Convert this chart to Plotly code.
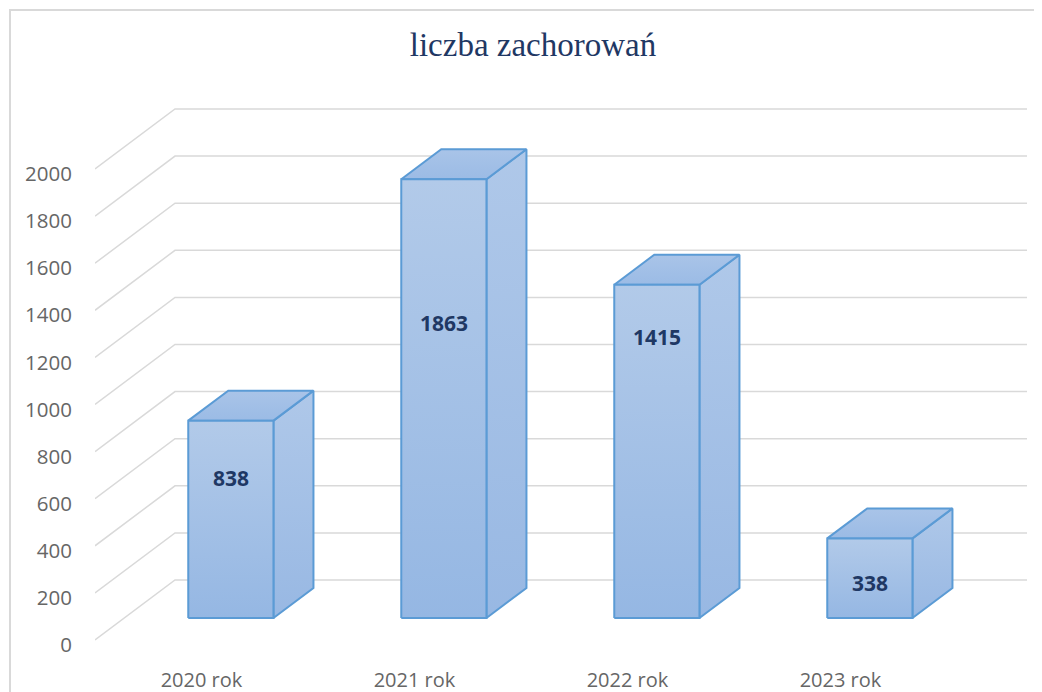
import plotly.graph_objects as go

# ---- data ----
categories = ["2020 rok", "2021 rok", "2022 rok", "2023 rok"]
values = [838, 1863, 1415, 338]
y_ticks = [0, 200, 400, 600, 800, 1000, 1200, 1400, 1600, 1800, 2000]
title_text = "liczba zachorowań"

# ---- layout / style settings ----
OFF = 8                        # the page body adds an 8px margin
W, H = 1042 - OFF, 692 - OFF   # figure size
ML, MR, MT, MB = 95 - OFF, 15, 100 - OFF, 32
PX_PER_CAT = 213.0            # horizontal pixels per category
PX_PER_UNIT = 0.2355          # vertical pixels per value unit
ZERO_PX = 640 - OFF           # pixel row of value 0 at the front edge
DEPTH_PX_X, DEPTH_PX_Y = 80.0, 60.0
DX = DEPTH_PX_X / PX_PER_CAT  # depth offset in category units
DY = DEPTH_PX_Y / PX_PER_UNIT # depth offset in value units
D_FRONT, D_BACK = 0.367, 0.867
HALF_W = 0.2
label_frac = [0.71, 0.672, 0.843, 0.44]  # where the value label sits on each bar

GRID = "#d9d9d9"
EDGE = "#5b9bd5"
front_scale = [[0, "#95b7e3"], [1, "#b2cae9"]]
side_scale = [[0, "#98b8e3"], [1, "#afc8e9"]]
top_scale = [[0, "#9bbbe5"], [1, "#a9c4e8"]]
TEXT_GRAY = "#666666"

x_lo = -0.5
x_hi = len(categories) - 0.5 + DX
plot_h = H - MT - MB
y_hi = (ZERO_PX - MT) / PX_PER_UNIT
y_lo = (ZERO_PX - (H - MB)) / PX_PER_UNIT

fig = go.Figure()

# gridlines: diagonal on the side wall + horizontal on the back wall
gx, gy = [], []
for v in y_ticks:
    gx += [x_lo, x_lo + DX, len(categories) - 0.5 + DX, None]
    gy += [v, v + DY, v + DY, None]
fig.add_trace(go.Scatter(x=gx, y=gy, mode="lines",
                         line=dict(color=GRID, width=1.5),
                         hoverinfo="skip", showlegend=False))

# 3D bars
ox = (D_BACK - D_FRONT) * DX
oy = (D_BACK - D_FRONT) * DY
for i, v in enumerate(values):
    x0 = i - HALF_W + D_FRONT * DX
    x1 = i + HALF_W + D_FRONT * DX
    y0 = D_FRONT * DY
    y1 = v + D_FRONT * DY
    faces = [
        ([x1, x1, x1 + ox, x1 + ox, x1], [y0, y1, y1 + oy, y0 + oy, y0], side_scale),
        ([x0, x0 + ox, x1 + ox, x1, x0], [y1, y1 + oy, y1 + oy, y1, y1], top_scale),
        ([x0, x0, x1, x1, x0], [y0, y1, y1, y0, y0], front_scale),
    ]
    for fx, fy, cs in faces:
        fig.add_trace(go.Scatter(
            x=fx, y=fy, mode="lines", fill="toself",
            fillgradient=dict(type="vertical", colorscale=cs),
            line=dict(color=EDGE, width=2),
            hoverinfo="skip", showlegend=False))
    fig.add_annotation(x=(x0 + x1) / 2, y=y0 + v * label_frac[i],
                       text=f"<b>{v}</b>", showarrow=False,
                       font=dict(family="Open Sans", size=21, color="#1f3864"),
                       xanchor="center", yanchor="middle")

# chart border
pw = W - ML - MR
fig.add_shape(type="rect", xref="paper", yref="paper",
              x0=(10 - OFF - ML) / pw, x1=(W + 5 - ML) / pw,
              y0=((H - MB) - (H + 5)) / plot_h, y1=((H - MB) - (10 - OFF)) / plot_h,
              line=dict(color="#d9d9d9", width=2), fillcolor="rgba(0,0,0,0)",
              layer="below")

fig.update_layout(
    width=W, height=H,
    margin=dict(l=ML, r=MR, t=MT, b=MB, autoexpand=False),
    paper_bgcolor="white", plot_bgcolor="white",
    showlegend=False,
    title=dict(text=title_text, x=(533 - OFF) / W, xanchor="center",
               y=1 - (44 - OFF) / H, yanchor="middle",
               xref="container", yref="container",
               font=dict(family="Liberation Serif", size=33, color="#1f3864")),
    xaxis=dict(range=[x_lo, x_hi], tickvals=list(range(len(categories))),
               ticktext=categories, showgrid=False, zeroline=False,
               showline=False, ticks="", ticklabelstandoff=6,
               tickfont=dict(family="Open Sans", size=20, color=TEXT_GRAY)),
    yaxis=dict(range=[y_lo, y_hi], tickvals=y_ticks,
               ticktext=[str(t) for t in y_ticks],
               showgrid=False, zeroline=False, showline=False, ticks="",
               ticklabelstandoff=22, ticklabelshift=5,
               tickfont=dict(family="Open Sans", size=20.5, color=TEXT_GRAY)),
)

fig.write_html("out.html")
